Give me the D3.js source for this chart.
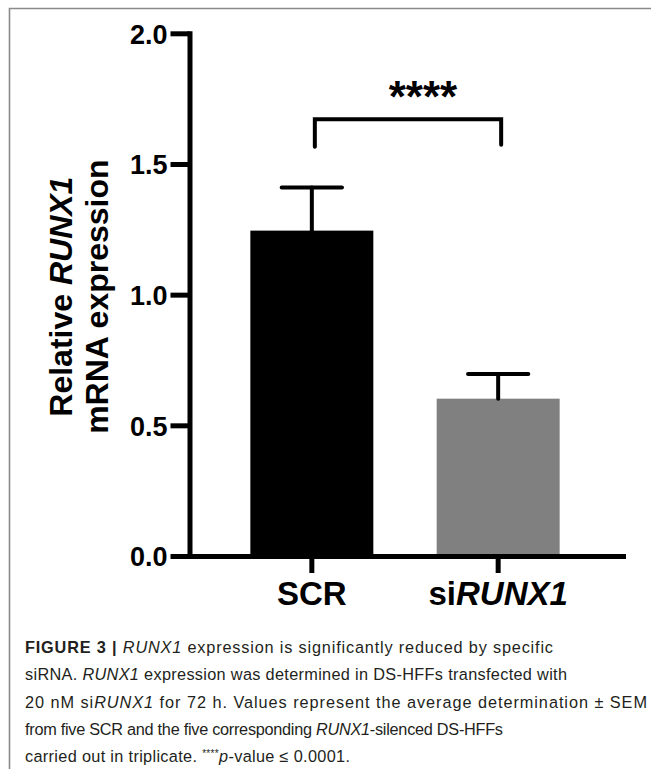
<!DOCTYPE html>
<html>
<head>
<meta charset="utf-8">
<script src="https://cdn.jsdelivr.net/npm/d3@7"></script>
<style>
  body { margin: 0; background: #fff; }
  text { font-family: "Liberation Sans", Arial, Helvetica, sans-serif; }
</style>
</head>
<body>
<div id="chart"></div>
<script>
// Data
const groups = ["SCR", "siRUNX1"];
const means = [1.245, 0.602];
const sems = [0.165, 0.094];
const yTicks = [0, 0.5, 1.0, 1.5, 2.0];
const sigLabel = "****";
const sigPair = ["SCR", "siRUNX1"];
const sigLevel = 1.671; // bracket height in axis units
const sigLeg = 0.105;

const captionLines = [
  [["FIGURE 3 | ", "b"], ["RUNX1", "i"], [" expression is significantly reduced by specific", ""]],
  [["siRNA. ", ""], ["RUNX1", "i"], [" expression was determined in DS-HFFs transfected with", ""]],
  [["20 nM si", ""], ["RUNX1", "i"], [" for 72 h. Values represent the average determination ± SEM", ""]],
  [["from five SCR and the five corresponding ", ""], ["RUNX1", "i"], ["-silenced DS-HFFs", ""]],
  [["carried out in triplicate. ", ""], ["****", "sup"], ["p", "i"], ["-value ≤ 0.0001.", ""]],
];
// rendered width of each caption line in the original layout
const captionWidths = [528, 542, 622, 478, 325];

const data = groups.map((g, i) => ({ group: g, mean: means[i], sem: sems[i] }));

// Dimensions
const dimensions = {
  width: 651,
  height: 769,
  plot: { left: 187, right: 623, top: 33.3, bottom: 556 },
};

const svg = d3
  .select("#chart")
  .append("svg")
  .attr("width", dimensions.width)
  .attr("height", dimensions.height);

svg.append("rect")
  .attr("width", dimensions.width)
  .attr("height", dimensions.height)
  .attr("fill", "#fff");

// figure frame (top + left edge)
svg.append("path")
  .attr("d", `M9.5,${dimensions.height} V8.5 H${dimensions.width}`)
  .attr("fill", "none")
  .attr("stroke", "#8a8a8a")
  .attr("stroke-width", 1.6);

// Scales
const xScale = d3
  .scaleBand()
  .domain(groups)
  .range([dimensions.plot.left, dimensions.plot.right])
  .padding(0.34);

const yScale = d3
  .scaleLinear()
  .domain([0, 2])
  .range([dimensions.plot.bottom, dimensions.plot.top]);

const colour = d3.scaleOrdinal().domain(groups).range(["#000000", "#808080"]);

// Bars
svg.append("g")
  .selectAll("rect")
  .data(data)
  .join("rect")
  .attr("x", (d) => xScale(d.group))
  .attr("y", (d) => yScale(d.mean))
  .attr("width", xScale.bandwidth())
  .attr("height", (d) => yScale(0) - yScale(d.mean))
  .attr("fill", (d) => colour(d.group));

// Error bars (upper only)
const cx = (d) => xScale(d.group) + xScale.bandwidth() / 2;
const capHalf = xScale.bandwidth() * 0.245;
const err = svg.append("g")
  .attr("stroke", "#000")
  .attr("stroke-width", 4)
  .attr("stroke-linecap", "round");

err.selectAll("line.stem")
  .data(data)
  .join("line")
  .attr("class", "stem")
  .attr("x1", cx)
  .attr("x2", cx)
  .attr("y1", (d) => yScale(d.mean))
  .attr("y2", (d) => yScale(d.mean + d.sem));

err.selectAll("line.cap")
  .data(data)
  .join("line")
  .attr("class", "cap")
  .attr("x1", (d) => cx(d) - capHalf)
  .attr("x2", (d) => cx(d) + capHalf)
  .attr("y1", (d) => yScale(d.mean + d.sem))
  .attr("y2", (d) => yScale(d.mean + d.sem));

// Axes
const yAxis = d3
  .axisLeft(yScale)
  .tickValues(yTicks)
  .tickFormat(d3.format(".1f"))
  .tickSize(19)
  .tickSizeOuter(0)
  .tickPadding(3);

const xAxis = d3
  .axisBottom(xScale)
  .tickSize(17)
  .tickSizeOuter(0);

const xAxisG = svg.append("g")
  .attr("transform", `translate(0, ${dimensions.plot.bottom})`)
  .call(xAxis);

const yAxisG = svg.append("g")
  .attr("transform", `translate(${dimensions.plot.left + 2.5}, 0)`)
  .call(yAxis);

[xAxisG, yAxisG].forEach((g) => {
  g.select(".domain")
    .attr("stroke", "#000")
    .attr("stroke-width", 5)
    .attr("stroke-linecap", "square");
  g.selectAll(".tick line")
    .attr("stroke", "#000")
    .attr("stroke-width", 5);
});

yAxisG.selectAll(".tick text")
  .attr("fill", "#000")
  .attr("font-size", 27)
  .attr("font-weight", "bold")
  .attr("dy", "0.36em");

xAxisG.selectAll(".tick text")
  .attr("fill", "#000")
  .attr("font-size", 33)
  .attr("font-weight", "bold")
  .attr("y", 48.5)
  .attr("dy", null)
  .text(null)
  .each(function (d) {
    const t = d3.select(this);
    if (d.startsWith("si")) {
      t.append("tspan").text("si");
      t.append("tspan").attr("font-style", "italic").text(d.slice(2));
    } else {
      t.text(d);
    }
  });

// Y axis title
const yTitle = svg.append("g")
  .attr("font-weight", "bold")
  .attr("font-size", 32)
  .attr("fill", "#000");

const midY = (dimensions.plot.top + dimensions.plot.bottom) / 2 + 2;
const t1 = yTitle.append("text")
  .attr("transform", `translate(72, ${midY}) rotate(-90)`)
  .attr("text-anchor", "middle");
t1.append("tspan").text("Relative ");
t1.append("tspan").attr("font-style", "italic").text("RUNX1");

yTitle.append("text")
  .attr("transform", `translate(108, ${midY}) rotate(-90)`)
  .attr("text-anchor", "middle")
  .text("mRNA expression");

// Significance bracket
const xa = xScale(sigPair[0]) + xScale.bandwidth() / 2 + 3;
const xb = xScale(sigPair[1]) + xScale.bandwidth() / 2 + 3;
const yTop = yScale(sigLevel);
const yLeg = yScale(sigLevel - sigLeg);

svg.append("path")
  .attr("d", `M${xa},${yLeg} V${yTop} H${xb} V${yLeg - 2}`)
  .attr("fill", "none")
  .attr("stroke", "#000")
  .attr("stroke-width", 4)
  .attr("stroke-linecap", "round")
  .attr("stroke-linejoin", "miter");

svg.append("text")
  .attr("x", (xa + xb) / 2 + 15)
  .attr("y", yTop - 7)
  .attr("text-anchor", "middle")
  .attr("font-size", 44)
  .attr("font-weight", "bold")
  .attr("fill", "#000")
  .text(sigLabel);

// Caption
const caption = svg.append("g")
  .attr("font-size", 16.3)
  .attr("fill", "#231f20");

captionLines.forEach((segs, i) => {
  const line = caption.append("text")
    .attr("x", 25)
    .attr("y", 653 + i * 27.3)
    .attr("textLength", captionWidths[i])
    .attr("lengthAdjust", "spacing");
  segs.forEach(([txt, style]) => {
    const s = line.append("tspan").text(txt);
    if (style === "b") s.attr("font-weight", "bold");
    if (style === "i") s.attr("font-style", "italic");
    if (style === "sup") s.attr("font-size", 10).attr("baseline-shift", "super");
  });
});
</script>
</body>
</html>
